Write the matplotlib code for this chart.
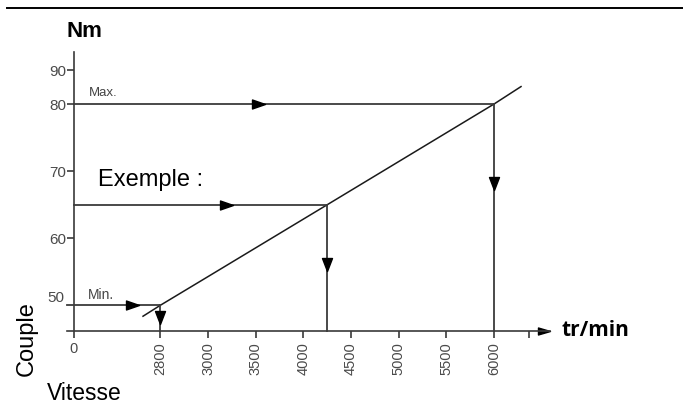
import numpy as np
import matplotlib.pyplot as plt
from matplotlib.lines import Line2D
from matplotlib.path import Path
import matplotlib.transforms as mtransforms

# axis ticks of the schematic (non-uniform spacing)
speed_ticks = [0, 2800, 3000, 3500, 4000, 4500, 5000, 5500, 6000, 6500]
speed_labels = ['0', '2800', '3000', '3500', '4000', '4500', '5000', '5500', '6000', '']
torque_ticks = [50, 60, 70, 80, 90]
torque_labels = ['50', '60', '70', '80', '90']

# torque / speed characteristic
line_speed = [2247, 2800, 3000, 4250, 6000, 6386]
line_torque = [48.4, 50, 54.3, 65, 80, 85.2]

# read-out cases
case_names = ['Min.', 'Exemple :', 'Max.']
case_speed = [2800, 4250, 6000]
case_torque = [50, 65, 80]

# piecewise scales (the drawing is not to scale)
x_knots = [-1000, 0, 2800, 3000, 6000, 6500, 8000]
x_pos = [-30.7, 0, 86, 134, 420, 455, 560]
y_knots = [0, 80, 120]
y_pos = [0, 80, 100]


def fwd_x(v):
    return np.interp(v, x_knots, x_pos)


def inv_x(v):
    return np.interp(v, x_pos, x_knots)


def fwd_y(v):
    return np.interp(v, y_knots, y_pos)


def inv_y(v):
    return np.interp(v, y_pos, y_knots)


def arrow_marker(direction, length, half_width):
    # triangle with its tip on the data point
    if direction == 'right':
        verts = [(0, 0), (-length, half_width), (-length, -half_width), (0, 0)]
    elif direction == 'up':
        verts = [(0, 0), (-half_width, -length), (half_width, -length), (0, 0)]
    else:
        verts = [(0, 0), (-half_width, length), (half_width, length), (0, 0)]
    return Path(verts, [Path.MOVETO, Path.LINETO, Path.LINETO, Path.CLOSEPOLY])


plt.rcParams['font.family'] = ['Liberation Sans', 'DejaVu Sans']

W, H = 683, 412
fig = plt.figure(figsize=(W / 100, H / 100), dpi=100)
ax = fig.add_axes([67 / W, 81 / H, 483 / W, 279 / H])
ax.set_xscale('function', functions=(fwd_x, inv_x))
ax.set_yscale('function', functions=(fwd_y, inv_y))
ax.set_xlim(-228, 6800)
ax.set_ylim(46.2, 95.5)

line_col = '#3a3a3a'
for side in ['top', 'right']:
    ax.spines[side].set_visible(False)
ax.spines['left'].set_position(('data', 0))
for side in ['left', 'bottom']:
    ax.spines[side].set_color(line_col)
    ax.spines[side].set_linewidth(1.2)

ax.set_xticks(speed_ticks)
ax.set_xticklabels(speed_labels, rotation=90, fontsize=10.5, color='#4a4a4a')
ax.set_yticks(torque_ticks)
ax.set_yticklabels(torque_labels, fontsize=11, color='#4a4a4a')
ax.tick_params(axis='x', direction='out', length=5, width=1.2, color=line_col, pad=3)
ax.tick_params(axis='y', direction='out', length=5, width=1.2, color=line_col, pad=0.8)
ax.xaxis.get_major_ticks()[0].label1.set_rotation(0)
t50 = ax.yaxis.get_major_ticks()[0]
t50.tick1line.set_visible(False)
t50.label1.set_transform(t50.label1.get_transform() +
                         mtransforms.ScaledTranslation(-0.02, 0.085, fig.dpi_scale_trans))

# axis arrows
ax.plot([1], [0], marker=arrow_marker('right', 12, 3.5), markersize=17.3,
        color='black', transform=ax.transAxes, clip_on=False)
ax.plot([0], [1], marker=arrow_marker('up', 12, 3), markersize=17.3,
        color='black', transform=ax.get_yaxis_transform(), clip_on=False)

# characteristic line
ax.plot(line_speed, line_torque, color='#1a1a1a', lw=1.1, clip_on=False)

# read-out lines with arrows
h_start = [-228, 0, 0]
h_frac = [0.774, 0.627, 0.455]
v_frac = [0.725, 0.524, 0.379]
label_off = [(14, 10.5), (24, 25), (15, 11)]
label_size = [10, 17, 9.5]
head_r = arrow_marker('right', 13, 4.5)
head_d = arrow_marker('down', 13, 5)
y_bottom = ax.get_ylim()[0]
for name, sx, ty, x0, hf, vf, off, fs in zip(case_names, case_speed, case_torque,
                                            h_start, h_frac, v_frac, label_off, label_size):
    ax.plot([x0, sx], [ty, ty], color=line_col, lw=1.3, clip_on=False)
    ax.plot([sx, sx], [ty, y_bottom], color=line_col, lw=1.3, clip_on=False)
    p0 = ax.transData.transform((x0, ty))
    p1 = ax.transData.transform((sx, ty))
    p2 = ax.transData.transform((sx, y_bottom))
    hx, hy = ax.transData.inverted().transform(p0 + hf * (p1 - p0))
    vx, vy = ax.transData.inverted().transform(p1 + vf * (p2 - p1))
    ax.plot([hx], [hy], marker=head_r, markersize=18.7, color='black', clip_on=False)
    ax.plot([vx], [vy], marker=head_d, markersize=18.7, color='black', clip_on=False)
    ax.annotate(name, xy=(0, ty), xytext=off, textcoords='offset pixels',
                ha='left', va='center', fontsize=fs,
                color='black' if fs > 12 else '#444444')

# titles
fig.text(67 / W, 1 - 37 / H, 'Nm', fontsize=16, fontweight='bold', va='baseline')
fig.text(561 / W, 1 - 336 / H, 'tr/min', fontsize=15, fontweight='bold',
         family=['Open Sans', 'DejaVu Sans'], va='baseline')
fig.text(27 / W, 1 - 338.5 / H, 'Couple', fontsize=17, rotation=90,
         ha='center', va='center')
fig.text(47 / W, 1 - 400 / H, 'Vitesse', fontsize=16.5, va='baseline')

fig.add_artist(Line2D([7 / W, 1], [1 - 8 / H, 1 - 8 / H], color='black', lw=1.4))

fig.savefig('out.png', dpi=100)
